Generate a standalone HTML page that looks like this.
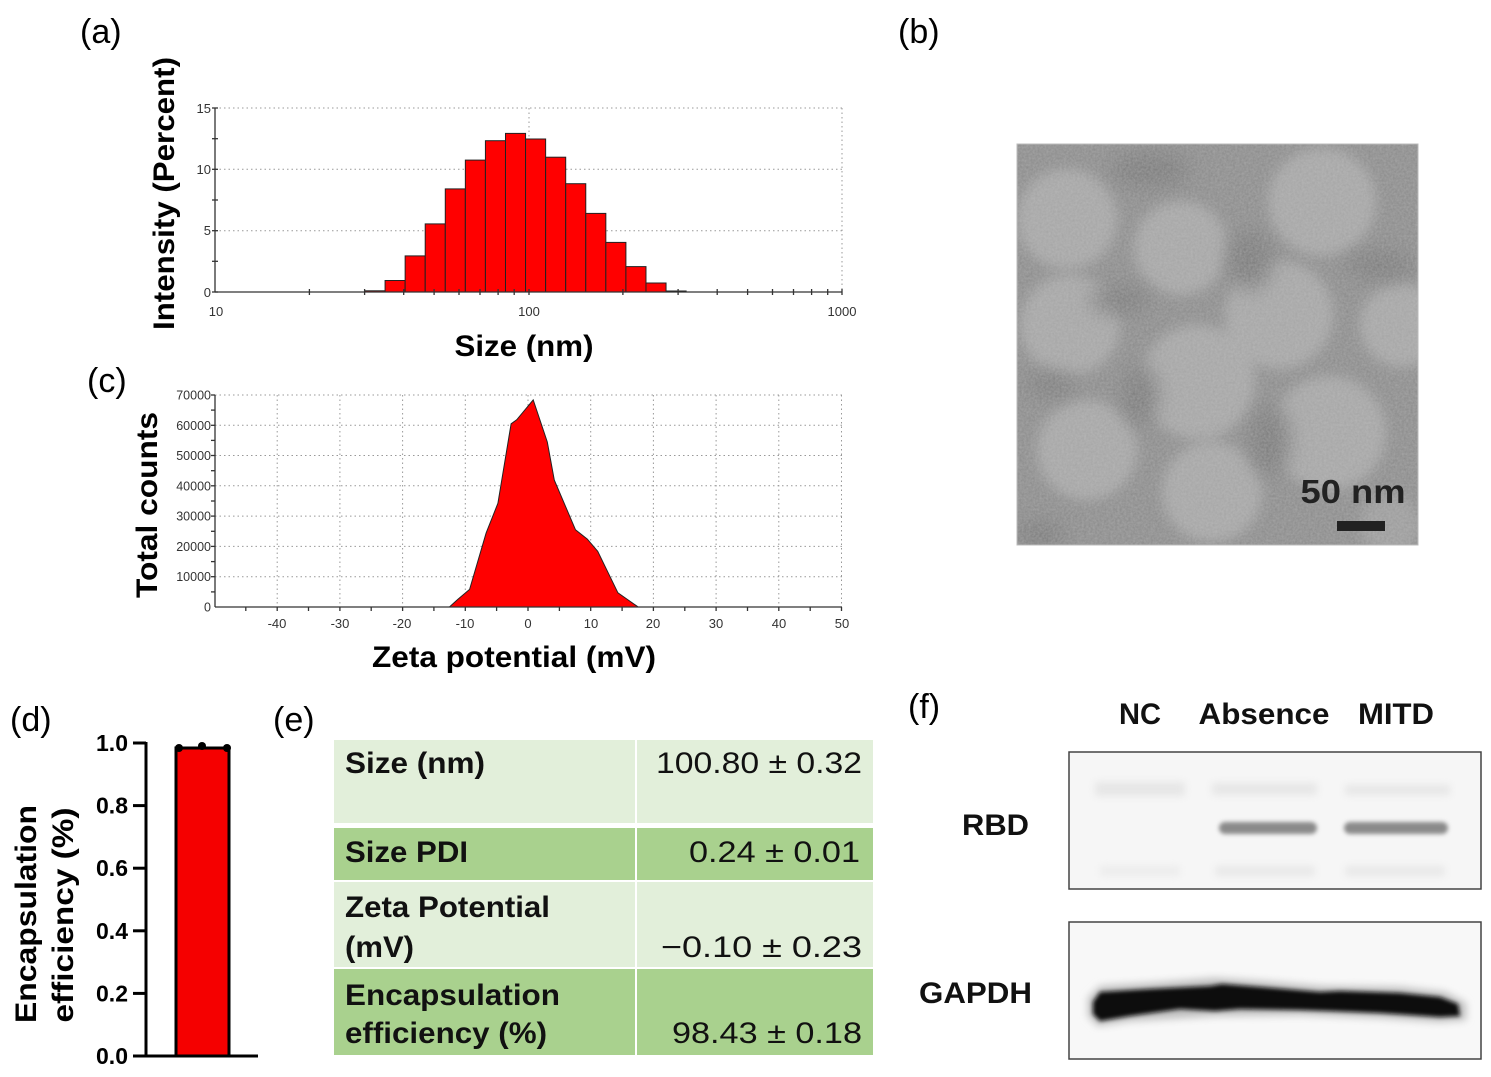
<!DOCTYPE html>
<html><head><meta charset="utf-8"><style>
html,body{margin:0;padding:0;background:#fff;}
svg{display:block;}
text{font-family:"Liberation Sans",Arial,sans-serif;}
</style></head><body>
<svg width="1491" height="1077" viewBox="0 0 1491 1077" xmlns="http://www.w3.org/2000/svg">
<defs>
<filter id="bl1" x="-50%" y="-50%" width="200%" height="200%"><feGaussianBlur stdDeviation="6"/></filter>
<filter id="bl1b" x="-50%" y="-50%" width="200%" height="200%"><feGaussianBlur stdDeviation="10"/></filter>
<filter id="bl2" x="-20%" y="-50%" width="140%" height="200%"><feGaussianBlur stdDeviation="2.2"/></filter>
<filter id="bl3" x="-20%" y="-80%" width="140%" height="260%"><feGaussianBlur stdDeviation="4"/></filter>
<filter id="noise" x="0" y="0" width="100%" height="100%">
<feTurbulence type="fractalNoise" baseFrequency="0.45" numOctaves="2" seed="4" result="n"/>
<feColorMatrix type="matrix" values="0 0 0 0 0.62  0 0 0 0 0.62  0 0 0 0 0.62  0 0 0 0.45 -0.05" />
</filter>
<clipPath id="temclip"><rect x="1017" y="144" width="401" height="401"/></clipPath>
</defs>
<rect width="1491" height="1077" fill="#fff"/>

<!-- Panel labels -->
<text x="80" y="43" font-size="34">(a)</text>
<text x="898" y="43" font-size="34">(b)</text>
<text x="87" y="392" font-size="34">(c)</text>
<text x="10" y="731" font-size="34">(d)</text>
<text x="273" y="731" font-size="34">(e)</text>
<text x="908" y="718" font-size="34">(f)</text>

<!-- ===== (a) histogram ===== -->
<g stroke="#999" stroke-width="1" stroke-dasharray="1.5 3" fill="none">
<line x1="215" y1="108" x2="842" y2="108"/>
<line x1="215" y1="169.3" x2="842" y2="169.3"/>
<line x1="215" y1="230.7" x2="842" y2="230.7"/>
<line x1="529" y1="108" x2="529" y2="292"/>
<line x1="842" y1="108" x2="842" y2="292"/>
</g>
<g fill="#ff0000" stroke="#222" stroke-width="1">
<rect x="365" y="290.8" width="20.07" height="1.2"/>
<rect x="385.07" y="280.5" width="20.07" height="11.5"/>
<rect x="405.14" y="255.9" width="20.07" height="36.1"/>
<rect x="425.21" y="223.9" width="20.07" height="68.1"/>
<rect x="445.28" y="188.9" width="20.07" height="103.1"/>
<rect x="465.35" y="160.1" width="20.07" height="131.9"/>
<rect x="485.42" y="140.7" width="20.07" height="151.3"/>
<rect x="505.49" y="133.4" width="20.07" height="158.6"/>
<rect x="525.56" y="139.0" width="20.07" height="153"/>
<rect x="545.63" y="157.2" width="20.07" height="134.8"/>
<rect x="565.7" y="183.7" width="20.07" height="108.3"/>
<rect x="585.77" y="213.4" width="20.07" height="78.6"/>
<rect x="605.84" y="242.4" width="20.07" height="49.6"/>
<rect x="625.91" y="266.6" width="20.07" height="25.4"/>
<rect x="645.98" y="283.0" width="20.07" height="9"/>
<rect x="666.05" y="291" width="20.07" height="1"/>
</g>
<g stroke="#333" stroke-width="1.3">
<line x1="215" y1="108" x2="215" y2="292"/>
<line x1="215" y1="292" x2="842" y2="292"/>
<line x1="212" y1="108" x2="218" y2="108"/>
<line x1="212" y1="138.7" x2="218" y2="138.7"/>
<line x1="212" y1="169.3" x2="218" y2="169.3"/>
<line x1="212" y1="200" x2="218" y2="200"/>
<line x1="212" y1="230.7" x2="218" y2="230.7"/>
<line x1="212" y1="261.3" x2="218" y2="261.3"/>
<line x1="212" y1="292" x2="218" y2="292"/>
<line x1="309.4" y1="289" x2="309.4" y2="295"/>
<line x1="364.6" y1="289" x2="364.6" y2="295"/>
<line x1="403.7" y1="289" x2="403.7" y2="295"/>
<line x1="434.1" y1="289" x2="434.1" y2="295"/>
<line x1="459" y1="289" x2="459" y2="295"/>
<line x1="480" y1="289" x2="480" y2="295"/>
<line x1="498.1" y1="289" x2="498.1" y2="295"/>
<line x1="514.2" y1="289" x2="514.2" y2="295"/>
<line x1="529" y1="289" x2="529" y2="295"/>
<line x1="622.9" y1="289" x2="622.9" y2="295"/>
<line x1="678.1" y1="289" x2="678.1" y2="295"/>
<line x1="717.2" y1="289" x2="717.2" y2="295"/>
<line x1="747.6" y1="289" x2="747.6" y2="295"/>
<line x1="772.5" y1="289" x2="772.5" y2="295"/>
<line x1="793.5" y1="289" x2="793.5" y2="295"/>
<line x1="811.6" y1="289" x2="811.6" y2="295"/>
<line x1="827.7" y1="289" x2="827.7" y2="295"/>
<line x1="842" y1="289" x2="842" y2="295"/>
</g>
<g font-size="13" fill="#333" text-anchor="end">
<text x="211" y="113">15</text>
<text x="211" y="174">10</text>
<text x="211" y="235">5</text>
<text x="211" y="297">0</text>
</g>
<g font-size="13" fill="#333" text-anchor="middle">
<text x="216" y="316">10</text>
<text x="529" y="316">100</text>
<text x="842" y="316">1000</text>
</g>
<text transform="translate(174,193.5) rotate(-90)" text-anchor="middle" font-size="30" font-weight="bold" textLength="273" lengthAdjust="spacingAndGlyphs">Intensity (Percent)</text>
<text x="524" y="356" text-anchor="middle" font-size="30" font-weight="bold" textLength="139" lengthAdjust="spacingAndGlyphs">Size (nm)</text>

<!-- ===== (c) zeta ===== -->
<g stroke="#999" stroke-width="1" stroke-dasharray="1.5 3" fill="none">
<line x1="215" y1="395" x2="842" y2="395"/>
<line x1="215" y1="425.3" x2="842" y2="425.3"/>
<line x1="215" y1="455.5" x2="842" y2="455.5"/>
<line x1="215" y1="485.8" x2="842" y2="485.8"/>
<line x1="215" y1="516.1" x2="842" y2="516.1"/>
<line x1="215" y1="546.4" x2="842" y2="546.4"/>
<line x1="215" y1="576.7" x2="842" y2="576.7"/>
<line x1="277.2" y1="395" x2="277.2" y2="607"/>
<line x1="339.9" y1="395" x2="339.9" y2="607"/>
<line x1="402.6" y1="395" x2="402.6" y2="607"/>
<line x1="465.3" y1="395" x2="465.3" y2="607"/>
<line x1="528" y1="395" x2="528" y2="607"/>
<line x1="590.7" y1="395" x2="590.7" y2="607"/>
<line x1="653.4" y1="395" x2="653.4" y2="607"/>
<line x1="716.1" y1="395" x2="716.1" y2="607"/>
<line x1="778.8" y1="395" x2="778.8" y2="607"/>
<line x1="841.5" y1="395" x2="841.5" y2="607"/>
</g>
<polygon fill="#ff0000" stroke="#222" stroke-width="1" points="449.4,607 457.8,599.4 469.6,589.4 486.1,533.1 497.9,503.3 511.1,423.8 516.7,419.8 533.2,399.9 547.3,442 554.3,480.1 575.5,529.8 587.3,539.1 597.7,551.3 617.9,592.8 627.3,599.4 638.2,607"/>
<g stroke="#333" stroke-width="1.3">
<line x1="215" y1="395" x2="215" y2="607"/>
<line x1="215" y1="607" x2="842" y2="607"/>
<line x1="211" y1="395" x2="215" y2="395"/>
<line x1="211" y1="410.1" x2="215" y2="410.1"/>
<line x1="211" y1="425.3" x2="215" y2="425.3"/>
<line x1="211" y1="440.4" x2="215" y2="440.4"/>
<line x1="211" y1="455.5" x2="215" y2="455.5"/>
<line x1="211" y1="470.7" x2="215" y2="470.7"/>
<line x1="211" y1="485.8" x2="215" y2="485.8"/>
<line x1="211" y1="501" x2="215" y2="501"/>
<line x1="211" y1="516.1" x2="215" y2="516.1"/>
<line x1="211" y1="531.3" x2="215" y2="531.3"/>
<line x1="211" y1="546.4" x2="215" y2="546.4"/>
<line x1="211" y1="561.6" x2="215" y2="561.6"/>
<line x1="211" y1="576.7" x2="215" y2="576.7"/>
<line x1="211" y1="591.9" x2="215" y2="591.9"/>
<line x1="245.8" y1="607" x2="245.8" y2="611"/>
<line x1="277.2" y1="607" x2="277.2" y2="611"/>
<line x1="308.5" y1="607" x2="308.5" y2="611"/>
<line x1="339.9" y1="607" x2="339.9" y2="611"/>
<line x1="371.2" y1="607" x2="371.2" y2="611"/>
<line x1="402.6" y1="607" x2="402.6" y2="611"/>
<line x1="433.9" y1="607" x2="433.9" y2="611"/>
<line x1="465.3" y1="607" x2="465.3" y2="611"/>
<line x1="496.6" y1="607" x2="496.6" y2="611"/>
<line x1="528" y1="607" x2="528" y2="611"/>
<line x1="559.4" y1="607" x2="559.4" y2="611"/>
<line x1="590.7" y1="607" x2="590.7" y2="611"/>
<line x1="622.1" y1="607" x2="622.1" y2="611"/>
<line x1="653.4" y1="607" x2="653.4" y2="611"/>
<line x1="684.8" y1="607" x2="684.8" y2="611"/>
<line x1="716.1" y1="607" x2="716.1" y2="611"/>
<line x1="747.5" y1="607" x2="747.5" y2="611"/>
<line x1="778.8" y1="607" x2="778.8" y2="611"/>
<line x1="810.2" y1="607" x2="810.2" y2="611"/>
<line x1="841.5" y1="607" x2="841.5" y2="611"/>
</g>
<g font-size="12.5" fill="#333" text-anchor="end">
<text x="211" y="399.5">70000</text>
<text x="211" y="429.8">60000</text>
<text x="211" y="460">50000</text>
<text x="211" y="490.3">40000</text>
<text x="211" y="520.6">30000</text>
<text x="211" y="550.9">20000</text>
<text x="211" y="581.2">10000</text>
<text x="211" y="611.5">0</text>
</g>
<g font-size="13" fill="#333" text-anchor="middle">
<text x="277" y="628">-40</text>
<text x="340" y="628">-30</text>
<text x="402" y="628">-20</text>
<text x="465" y="628">-10</text>
<text x="528" y="628">0</text>
<text x="591" y="628">10</text>
<text x="653" y="628">20</text>
<text x="716" y="628">30</text>
<text x="779" y="628">40</text>
<text x="842" y="628">50</text>
</g>
<text transform="translate(157,505) rotate(-90)" text-anchor="middle" font-size="30" font-weight="bold" textLength="186" lengthAdjust="spacingAndGlyphs">Total counts</text>
<text x="514" y="667" text-anchor="middle" font-size="30" font-weight="bold" textLength="284" lengthAdjust="spacingAndGlyphs">Zeta potential (mV)</text>

<!-- ===== (b) TEM ===== -->
<g clip-path="url(#temclip)">
<rect x="1017" y="144" width="401" height="401" fill="#8c8c8c"/>
<g filter="url(#bl1)" fill="#a6a6a6">
<circle cx="1067" cy="219" r="50"/>
<circle cx="1181" cy="248" r="47"/>
<circle cx="1322" cy="202" r="54"/>
<circle cx="1070" cy="325" r="50"/>
<circle cx="1279" cy="315" r="54"/>
<circle cx="1402" cy="325" r="42"/>
<circle cx="1198" cy="382" r="57"/>
<circle cx="1087" cy="450" r="50"/>
<circle cx="1329" cy="433" r="57"/>
<circle cx="1212" cy="492" r="50"/>
<circle cx="1390" cy="525" r="30" fill="#9c9c9c"/>
</g>
<g filter="url(#bl1b)" fill="#7c7c7c">
<ellipse cx="1150" cy="170" rx="40" ry="18"/>
<ellipse cx="1120" cy="300" rx="30" ry="14"/>
<ellipse cx="1250" cy="260" rx="22" ry="30"/>
<ellipse cx="1380" cy="265" rx="35" ry="14"/>
<ellipse cx="1140" cy="395" rx="18" ry="30"/>
<ellipse cx="1270" cy="440" rx="20" ry="35"/>
<ellipse cx="1050" cy="385" rx="25" ry="12"/>
<ellipse cx="1040" cy="535" rx="25" ry="15"/>
</g>
<rect x="1017" y="144" width="401" height="401" filter="url(#noise)"/>
</g>
<rect x="1017" y="144" width="401" height="401" fill="none" stroke="#bbb" stroke-width="1"/>
<text x="1353" y="503" text-anchor="middle" font-size="33" font-weight="bold" fill="#222" textLength="105" lengthAdjust="spacingAndGlyphs">50 nm</text>
<rect x="1337" y="521" width="48" height="10" fill="#222"/>

<!-- ===== (d) bar ===== -->
<rect x="176" y="748" width="53" height="308" fill="#f50000" stroke="#000" stroke-width="3"/>
<line x1="179" y1="748" x2="227" y2="748" stroke="#000" stroke-width="3"/>
<circle cx="179" cy="748" r="4" fill="#000"/>
<circle cx="202" cy="746" r="4" fill="#000"/>
<circle cx="227" cy="748" r="4" fill="#000"/>
<g stroke="#000" stroke-width="3">
<line x1="146" y1="742" x2="146" y2="1057.5"/>
<line x1="144.5" y1="1056" x2="258" y2="1056"/>
<line x1="133" y1="743" x2="146" y2="743"/>
<line x1="133" y1="805.6" x2="146" y2="805.6"/>
<line x1="133" y1="868.2" x2="146" y2="868.2"/>
<line x1="133" y1="930.8" x2="146" y2="930.8"/>
<line x1="133" y1="993.4" x2="146" y2="993.4"/>
<line x1="133" y1="1056" x2="146" y2="1056"/>
</g>
<g font-size="23" font-weight="bold" text-anchor="end">
<text x="128" y="751">1.0</text>
<text x="128" y="813.6">0.8</text>
<text x="128" y="876.2">0.6</text>
<text x="128" y="938.8">0.4</text>
<text x="128" y="1001.4">0.2</text>
<text x="128" y="1064">0.0</text>
</g>
<text transform="translate(36,914) rotate(-90)" text-anchor="middle" font-size="30" font-weight="bold" textLength="218" lengthAdjust="spacingAndGlyphs">Encapsulation</text>
<text transform="translate(73,915) rotate(-90)" text-anchor="middle" font-size="30" font-weight="bold" textLength="215" lengthAdjust="spacingAndGlyphs">efficiency (%)</text>

<!-- ===== (e) table ===== -->
<rect x="334" y="740" width="301" height="83" fill="#e2efda"/>
<rect x="637" y="740" width="236" height="83" fill="#e2efda"/>
<rect x="334" y="828" width="301" height="52" fill="#a9d18e"/>
<rect x="637" y="828" width="236" height="52" fill="#a9d18e"/>
<rect x="334" y="882" width="301" height="85" fill="#e2efda"/>
<rect x="637" y="882" width="236" height="85" fill="#e2efda"/>
<rect x="334" y="969" width="301" height="86" fill="#a9d18e"/>
<rect x="637" y="969" width="236" height="86" fill="#a9d18e"/>
<g font-size="30" font-weight="bold" fill="#111">
<text x="345" y="773" textLength="140" lengthAdjust="spacingAndGlyphs">Size (nm)</text>
<text x="345" y="862" textLength="123" lengthAdjust="spacingAndGlyphs">Size PDI</text>
<text x="345" y="917" textLength="205" lengthAdjust="spacingAndGlyphs">Zeta Potential</text>
<text x="345" y="957" textLength="69" lengthAdjust="spacingAndGlyphs">(mV)</text>
<text x="345" y="1005" textLength="215" lengthAdjust="spacingAndGlyphs">Encapsulation</text>
<text x="345" y="1043" textLength="202" lengthAdjust="spacingAndGlyphs">efficiency (%)</text>
</g>
<g font-size="30" fill="#111" text-anchor="end">
<text x="862" y="773" textLength="206" lengthAdjust="spacingAndGlyphs">100.80 ± 0.32</text>
<text x="860" y="862" textLength="171" lengthAdjust="spacingAndGlyphs">0.24 ± 0.01</text>
<text x="862" y="957" textLength="201" lengthAdjust="spacingAndGlyphs">−0.10 ± 0.23</text>
<text x="862" y="1043" textLength="190" lengthAdjust="spacingAndGlyphs">98.43 ± 0.18</text>
</g>

<!-- ===== (f) western blot ===== -->
<g font-size="30" font-weight="bold" fill="#111">
<text x="1140" y="724" text-anchor="middle" textLength="42" lengthAdjust="spacingAndGlyphs">NC</text>
<text x="1264" y="724" text-anchor="middle" textLength="131" lengthAdjust="spacingAndGlyphs">Absence</text>
<text x="1396" y="724" text-anchor="middle" textLength="76" lengthAdjust="spacingAndGlyphs">MITD</text>
<text x="962" y="835" textLength="67" lengthAdjust="spacingAndGlyphs">RBD</text>
<text x="919" y="1003" textLength="113" lengthAdjust="spacingAndGlyphs">GAPDH</text>
</g>
<rect x="1069" y="752" width="412" height="137" fill="#f6f6f6" stroke="#444" stroke-width="1.5"/>
<g filter="url(#bl3)" fill="#e6e6e6">
<rect x="1095" y="782" width="90" height="14"/>
<rect x="1212" y="783" width="105" height="12"/>
<rect x="1345" y="785" width="105" height="10"/>
<rect x="1100" y="866" width="80" height="10" fill="#ececec"/>
<rect x="1215" y="866" width="100" height="10" fill="#e8e8e8"/>
<rect x="1345" y="866" width="100" height="10" fill="#e8e8e8"/>
</g>
<g filter="url(#bl2)" fill="#8a8a8a">
<rect x="1219" y="822" width="98" height="12" rx="6"/>
<rect x="1344" y="822" width="104" height="12" rx="6"/>
</g>
<rect x="1069" y="922" width="412" height="137" fill="#f8f8f8" stroke="#444" stroke-width="1.5"/>
<g filter="url(#bl3)">
<polygon fill="#bdbdbd" points="1088,998 1100,986 1150,983 1215,978 1260,981 1320,986 1400,987 1445,992 1466,1003 1466,1020 1440,1022 1380,1018 1300,1015 1215,1016 1130,1021 1098,1026 1088,1016"/>
</g>
<g filter="url(#bl2)">
<polygon fill="#111" points="1093,1002 1100,992 1150,989 1210,986 1222,984 1260,987 1320,992 1340,991 1400,993 1440,997 1458,1004 1460,1016 1440,1017 1380,1013 1330,1011 1300,1010 1240,1009 1215,1011 1180,1009 1130,1016 1100,1021 1093,1014"/>
</g>
</svg>
</body></html>
